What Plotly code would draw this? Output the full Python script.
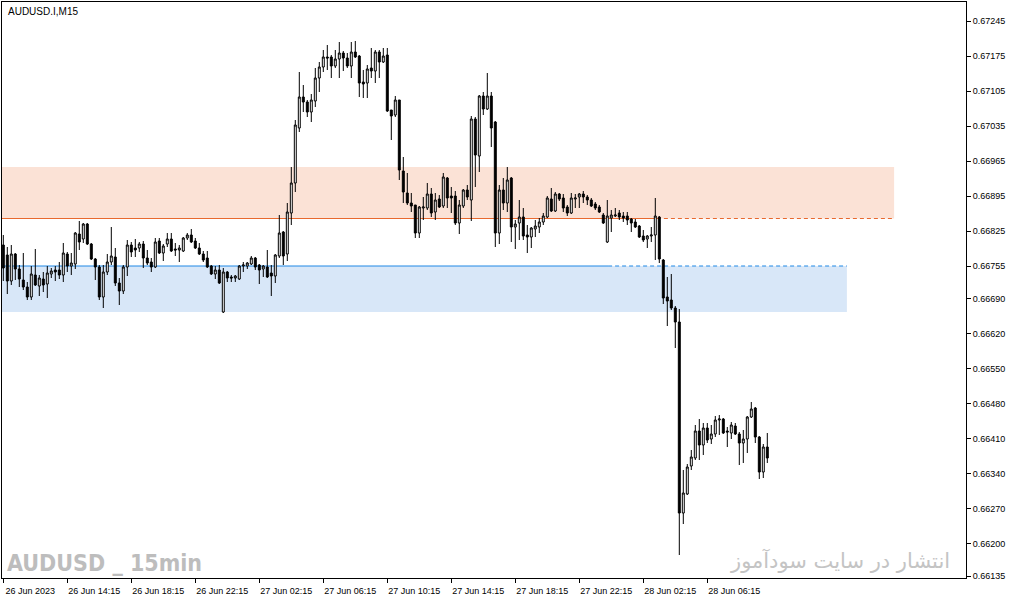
import plotly.graph_objects as go
import pandas as pd

# AUDUSD.I M15 bars, first bar 26 Jun 2023 10:15 (server time)
start_time = "2023-06-26 10:15"
bar_minutes = 15

open_ = [0.66797, 0.66777, 0.66725, 0.66779, 0.66749, 0.66727, 0.66713, 0.66693, 0.66737, 0.66715,
         0.66729, 0.66719, 0.66739, 0.66747, 0.66747, 0.66737, 0.66779, 0.66755, 0.66759, 0.66819,
         0.66809, 0.66839, 0.66799, 0.66769, 0.66753, 0.66693, 0.66743, 0.66763, 0.66773, 0.66721,
         0.66705, 0.66753, 0.66797, 0.66791, 0.66791, 0.66799, 0.66771, 0.66763, 0.66753, 0.66805,
         0.66781, 0.66799, 0.66809, 0.66789, 0.66787, 0.66785, 0.66811, 0.66817, 0.66805, 0.66791,
         0.66779, 0.66771, 0.66755, 0.66739, 0.66747, 0.66663, 0.66743, 0.66733, 0.66731, 0.66729,
         0.66755, 0.66755, 0.66759, 0.66771, 0.66757, 0.66749, 0.66753, 0.66741, 0.66735, 0.66775,
         0.66823, 0.66779, 0.66861, 0.66921, 0.67031, 0.67093, 0.67083, 0.67063, 0.67085, 0.67131,
         0.67153, 0.67173, 0.67173, 0.67155, 0.67169, 0.67181, 0.67171, 0.67155, 0.67183, 0.67175,
         0.67123, 0.67121, 0.67151, 0.67145, 0.67183, 0.67163, 0.67177, 0.67067, 0.67057, 0.67087,
         0.66945, 0.66901, 0.66881, 0.66877, 0.66821, 0.66871, 0.66871, 0.66899, 0.66863, 0.66889,
         0.66875, 0.66931, 0.66895, 0.66895, 0.66841, 0.66875, 0.66907, 0.66887, 0.67049, 0.66975,
         0.67095, 0.67069, 0.67095, 0.67043, 0.66821, 0.66907, 0.66881, 0.66931, 0.66833, 0.66841,
         0.66853, 0.66817, 0.66813, 0.66829, 0.66833, 0.66843, 0.66853, 0.66889, 0.66865, 0.66899,
         0.66891, 0.66873, 0.66861, 0.66889, 0.66893, 0.66899, 0.66893, 0.66887, 0.66879, 0.66873,
         0.66857, 0.66803, 0.66851, 0.66855, 0.66861, 0.66855, 0.66855, 0.66849, 0.66843, 0.66835,
         0.66815, 0.66809, 0.66815, 0.66817, 0.66853, 0.66767, 0.66693, 0.66687, 0.66671, 0.66643,
         0.66261, 0.66299, 0.66355, 0.66371, 0.66425, 0.66397, 0.66431, 0.66409, 0.66419, 0.66447,
         0.66449, 0.66425, 0.66421, 0.66435, 0.66419, 0.66401, 0.66409, 0.66453, 0.66471, 0.66413,
         0.66343, 0.66393]

high = [0.66817, 0.66793, 0.66797, 0.66781, 0.66757, 0.66781, 0.66723, 0.66755, 0.66789, 0.66737,
        0.66743, 0.66755, 0.66751, 0.66755, 0.66763, 0.66801, 0.66783, 0.66781, 0.66823, 0.66845,
        0.66841, 0.66841, 0.66801, 0.66771, 0.66757, 0.66757, 0.66779, 0.66833, 0.66791, 0.66731,
        0.66757, 0.66807, 0.66803, 0.66809, 0.66803, 0.66805, 0.66787, 0.66771, 0.66811, 0.66811,
        0.66799, 0.66821, 0.66821, 0.66801, 0.66797, 0.66813, 0.66821, 0.66829, 0.66811, 0.66801,
        0.66785, 0.66785, 0.66757, 0.66755, 0.66757, 0.66751, 0.66745, 0.66737, 0.66737, 0.66757,
        0.66763, 0.66763, 0.66775, 0.66773, 0.66759, 0.66757, 0.66787, 0.66757, 0.66779, 0.66857,
        0.66825, 0.66881, 0.66953, 0.67047, 0.67143, 0.67117, 0.67087, 0.67099, 0.67151, 0.67163,
        0.67187, 0.67197, 0.67177, 0.67187, 0.67203, 0.67185, 0.67181, 0.67203, 0.67205, 0.67177,
        0.67147, 0.67157, 0.67191, 0.67187, 0.67187, 0.67191, 0.67191, 0.67067, 0.67095, 0.67087,
        0.66973, 0.66941, 0.66901, 0.66877, 0.66875, 0.66893, 0.66921, 0.66911, 0.66901, 0.66897,
        0.66941, 0.66933, 0.66913, 0.66905, 0.66887, 0.66909, 0.66917, 0.67055, 0.67053, 0.67097,
        0.67103, 0.67141, 0.67103, 0.67045, 0.66917, 0.66931, 0.66953, 0.66933, 0.66847, 0.66887,
        0.66871, 0.66837, 0.66833, 0.66847, 0.66851, 0.66861, 0.66895, 0.66911, 0.66903, 0.66901,
        0.66899, 0.66877, 0.66901, 0.66899, 0.66901, 0.66905, 0.66897, 0.66891, 0.66883, 0.66877,
        0.66861, 0.66887, 0.66867, 0.66871, 0.66867, 0.66863, 0.66863, 0.66851, 0.66849, 0.66837,
        0.66827, 0.66817, 0.66833, 0.66891, 0.66855, 0.66769, 0.66733, 0.66739, 0.66675, 0.66669,
        0.66347, 0.66359, 0.66387, 0.66437, 0.66449, 0.66441, 0.66441, 0.66437, 0.66455, 0.66457,
        0.66451, 0.66433, 0.66443, 0.66441, 0.66423, 0.66427, 0.66455, 0.66483, 0.66473, 0.66415,
        0.66399, 0.66421]

low = [0.66725, 0.66699, 0.66717, 0.66727, 0.66713, 0.66707, 0.66687, 0.66687, 0.66715, 0.66695,
       0.66703, 0.66691, 0.66731, 0.66725, 0.66729, 0.66723, 0.66743, 0.66737, 0.66749, 0.66787,
       0.66801, 0.66797, 0.66767, 0.66727, 0.66687, 0.66671, 0.66737, 0.66757, 0.66715, 0.66677,
       0.66699, 0.66735, 0.66773, 0.66773, 0.66783, 0.66751, 0.66757, 0.66743, 0.66751, 0.66779,
       0.66765, 0.66793, 0.66783, 0.66775, 0.66763, 0.66783, 0.66807, 0.66801, 0.66789, 0.66777,
       0.66763, 0.66751, 0.66737, 0.66729, 0.66719, 0.66661, 0.66723, 0.66723, 0.66723, 0.66727,
       0.66743, 0.66749, 0.66757, 0.66747, 0.66719, 0.66733, 0.66731, 0.66695, 0.66721, 0.66771,
       0.66757, 0.66765, 0.66837, 0.66903, 0.67023, 0.67063, 0.67053, 0.67043, 0.67073, 0.67103,
       0.67143, 0.67147, 0.67131, 0.67151, 0.67131, 0.67145, 0.67151, 0.67131, 0.67171, 0.67093,
       0.67091, 0.67091, 0.67131, 0.67121, 0.67131, 0.67161, 0.67063, 0.67007, 0.67053, 0.66927,
       0.66881, 0.66877, 0.66863, 0.66811, 0.66811, 0.66847, 0.66867, 0.66853, 0.66847, 0.66871,
       0.66871, 0.66871, 0.66861, 0.66837, 0.66819, 0.66871, 0.66887, 0.66845, 0.66913, 0.66943,
       0.67057, 0.67067, 0.66993, 0.66793, 0.66799, 0.66867, 0.66863, 0.66803, 0.66789, 0.66807,
       0.66807, 0.66781, 0.66791, 0.66813, 0.66821, 0.66837, 0.66851, 0.66863, 0.66863, 0.66885,
       0.66863, 0.66855, 0.66859, 0.66871, 0.66871, 0.66881, 0.66877, 0.66873, 0.66867, 0.66861,
       0.66839, 0.66801, 0.66823, 0.66853, 0.66847, 0.66843, 0.66837, 0.66823, 0.66831, 0.66811,
       0.66803, 0.66791, 0.66803, 0.66767, 0.66761, 0.66679, 0.66635, 0.66667, 0.66591, 0.66177,
       0.66239, 0.66297, 0.66347, 0.66367, 0.66367, 0.66377, 0.66401, 0.66399, 0.66413, 0.66417,
       0.66419, 0.66393, 0.66409, 0.66417, 0.66357, 0.66361, 0.66381, 0.66451, 0.66401, 0.66329,
       0.66331, 0.66361]

close = [0.66751, 0.66725, 0.66779, 0.66749, 0.66729, 0.66713, 0.66693, 0.66739, 0.66717, 0.66731,
         0.66717, 0.66741, 0.66745, 0.66743, 0.66737, 0.66781, 0.66755, 0.66761, 0.66821, 0.66803,
         0.66839, 0.66799, 0.66769, 0.66753, 0.66693, 0.66743, 0.66763, 0.66775, 0.66721, 0.66705,
         0.66753, 0.66797, 0.66783, 0.66787, 0.66799, 0.66771, 0.66761, 0.66753, 0.66803, 0.66781,
         0.66795, 0.66809, 0.66785, 0.66787, 0.66791, 0.66811, 0.66817, 0.66803, 0.66791, 0.66779,
         0.66767, 0.66753, 0.66739, 0.66747, 0.66721, 0.66743, 0.66731, 0.66731, 0.66735, 0.66755,
         0.66757, 0.66761, 0.66771, 0.66753, 0.66747, 0.66755, 0.66733, 0.66735, 0.66777, 0.66821,
         0.66775, 0.66863, 0.66921, 0.67037, 0.67093, 0.67083, 0.67063, 0.67087, 0.67131, 0.67153,
         0.67173, 0.67171, 0.67155, 0.67169, 0.67181, 0.67171, 0.67155, 0.67183, 0.67173, 0.67121,
         0.67119, 0.67149, 0.67145, 0.67183, 0.67163, 0.67175, 0.67065, 0.67055, 0.67087, 0.66947,
         0.66903, 0.66881, 0.66875, 0.66821, 0.66873, 0.66873, 0.66899, 0.66861, 0.66887, 0.66873,
         0.66933, 0.66891, 0.66891, 0.66841, 0.66877, 0.66907, 0.66893, 0.67049, 0.66977, 0.67095,
         0.67069, 0.67095, 0.67031, 0.66821, 0.66907, 0.66881, 0.66927, 0.66833, 0.66839, 0.66853,
         0.66815, 0.66813, 0.66831, 0.66835, 0.66843, 0.66855, 0.66891, 0.66865, 0.66899, 0.66889,
         0.66871, 0.66861, 0.66891, 0.66891, 0.66899, 0.66893, 0.66887, 0.66875, 0.66871, 0.66863,
         0.66841, 0.66855, 0.66857, 0.66857, 0.66853, 0.66851, 0.66847, 0.66841, 0.66833, 0.66813,
         0.66807, 0.66815, 0.66817, 0.66855, 0.66769, 0.66691, 0.66685, 0.66671, 0.66643, 0.66261,
         0.66301, 0.66353, 0.66373, 0.66425, 0.66397, 0.66431, 0.66407, 0.66419, 0.66447, 0.66449,
         0.66421, 0.66423, 0.66437, 0.66419, 0.66401, 0.66409, 0.66453, 0.66469, 0.66413, 0.66343,
         0.66393, 0.66371]

# right price scale labels
price_ticks = [0.67245, 0.67175, 0.67105, 0.67035, 0.66965, 0.66895, 0.66825, 0.66755, 0.66690,
               0.66620, 0.66550, 0.66480, 0.66410, 0.66340, 0.66270, 0.66200, 0.66135]

# time scale labels
time_ticks = ["2023-06-26 10:15", "2023-06-26 14:15", "2023-06-26 18:15", "2023-06-26 22:15",
              "2023-06-27 02:15", "2023-06-27 06:15", "2023-06-27 10:15", "2023-06-27 14:15",
              "2023-06-27 18:15", "2023-06-27 22:15", "2023-06-28 02:15", "2023-06-28 06:15"]
time_labels = ["26 Jun 2023", "26 Jun 14:15", "26 Jun 18:15", "26 Jun 22:15", "27 Jun 02:15",
               "27 Jun 06:15", "27 Jun 10:15", "27 Jun 14:15", "27 Jun 18:15", "27 Jun 22:15",
               "28 Jun 02:15", "28 Jun 06:15"]

# supply / demand zones
supply_top, supply_bottom = 0.66953, 0.66850
demand_top, demand_bottom = 0.66755, 0.66663

t0 = pd.Timestamp(start_time)
times = pd.date_range(t0, periods=len(open_), freq=f"{bar_minutes}min")


def at(k):
    # time at a (fractional) bar position
    return (t0 + pd.Timedelta(minutes=bar_minutes * k)).isoformat()


fig = go.Figure(go.Candlestick(
    x=times, open=open_, high=high, low=low, close=close,
    increasing=dict(line=dict(color="black", width=1), fillcolor="white"),
    decreasing=dict(line=dict(color="black", width=1), fillcolor="black"),
    whiskerwidth=0,
    hoverinfo="skip",
    showlegend=False,
))

orange = "#e8692f"
blue = "#1e88e5"
shapes = [
    dict(type="rect", xref="x", yref="y", x0=at(-1), x1=at(222.7), y0=supply_bottom, y1=supply_top,
         fillcolor="#fbe2d6", line_width=0, layer="below"),
    dict(type="rect", xref="x", yref="y", x0=at(-1), x1=at(210.9), y0=demand_bottom, y1=demand_top,
         fillcolor="#d8e7f8", line_width=0, layer="below"),
    dict(type="line", xref="x", yref="y", x0=at(-1), x1=at(163.4), y0=supply_bottom, y1=supply_bottom,
         line=dict(color=orange, width=1), layer="below"),
    dict(type="line", xref="x", yref="y", x0=at(163.4), x1=at(222.7), y0=supply_bottom, y1=supply_bottom,
         line=dict(color=orange, width=1, dash="4px,3px"), layer="below"),
    dict(type="line", xref="x", yref="y", x0=at(-1), x1=at(151.2), y0=demand_top, y1=demand_top,
         line=dict(color=blue, width=1), layer="below"),
    dict(type="line", xref="x", yref="y", x0=at(151.2), x1=at(210.9), y0=demand_top, y1=demand_top,
         line=dict(color=blue, width=1, dash="4px,3px"), layer="below"),
]

annotations = [
    dict(text="AUDUSD.I,M15", xref="paper", yref="paper", x=0.004, y=0.997, xanchor="left",
         yanchor="top", showarrow=False, font=dict(family="Liberation Sans", size=10, color="black")),
    dict(text="<b>AUDUSD _ 15min</b>", xref="paper", yref="paper", x=0.003, y=0.0, xanchor="left",
         yanchor="bottom", showarrow=False,
         font=dict(family="DejaVu Sans Condensed, Liberation Sans Narrow, Liberation Sans",
                   size=23, color="#bdbdbd")),
    dict(text="انتشار در سایت سودآموز", xref="paper", yref="paper", x=0.985, y=0.006, xanchor="right",
         yanchor="bottom", showarrow=False, font=dict(family="DejaVu Sans", size=21, color="#c4c4c4")),
]

fig.update_layout(
    width=1013, height=601,
    margin=dict(l=2, r=47, t=2, b=23),
    paper_bgcolor="white", plot_bgcolor="white",
    shapes=shapes, annotations=annotations,
    boxgap=0.3,
    showlegend=False, hovermode=False,
    font=dict(family="Liberation Sans", size=9, color="black"),
)
fig.update_xaxes(
    type="date", range=[at(-0.325), at(240.675)],
    rangeslider_visible=False,
    showgrid=False, zeroline=False,
    showline=True, mirror=True, linecolor="black", linewidth=1,
    tickmode="array", tickvals=time_ticks, ticktext=time_labels,
    ticks="outside", ticklen=4, tickcolor="black", ticklabelshift=27,
    tickfont=dict(size=9),
)
fig.update_yaxes(
    side="right", range=[0.66131, 0.67283],
    showgrid=False, zeroline=False,
    showline=True, mirror=True, linecolor="black", linewidth=1,
    tickmode="array", tickvals=price_ticks, ticktext=[f"{v:.5f}" for v in price_ticks],
    ticks="outside", ticklen=4, tickcolor="black",
    tickfont=dict(size=9),
)

# the page is photographed edge to edge, so drop the default body margin
fig.write_html("out.html", config={"displayModeBar": False},
               post_script="document.body.style.margin='0';")
